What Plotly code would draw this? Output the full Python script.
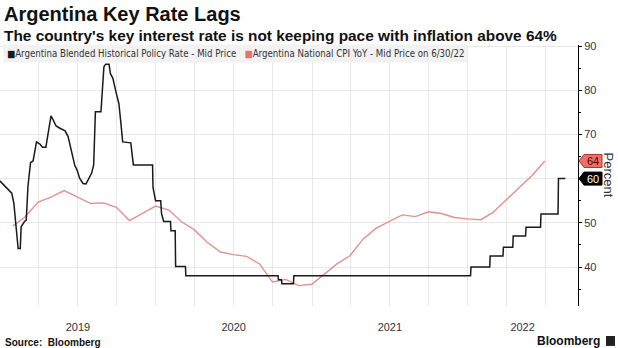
import plotly.graph_objects as go

# Argentina blended historical policy rate (%), daily path sampled at turning points
rate_dates = [
    "2018-12-31", "2019-01-16", "2019-01-28", "2019-02-02", "2019-02-08", "2019-02-12",
    "2019-02-17", "2019-02-19", "2019-02-27", "2019-03-03", "2019-03-07", "2019-03-13",
    "2019-03-19", "2019-03-27", "2019-04-04", "2019-04-10", "2019-04-18", "2019-04-30",
    "2019-05-05", "2019-05-12", "2019-05-21", "2019-06-02", "2019-06-09", "2019-06-17",
    "2019-06-25", "2019-06-30", "2019-07-06", "2019-07-14", "2019-07-21", "2019-07-26",
    "2019-08-03", "2019-08-08", "2019-08-12", "2019-08-25", "2019-09-01", "2019-09-05",
    "2019-09-13", "2019-09-16", "2019-09-22", "2019-09-30", "2019-10-06", "2019-10-10",
    "2019-10-15", "2019-11-03", "2019-11-09", "2019-12-24", "2019-12-25", "2019-12-31",
    "2020-01-12", "2020-01-14", "2020-01-19", "2020-02-04", "2020-02-05", "2020-02-15",
    "2020-02-16", "2020-03-10", "2020-03-11", "2020-10-13", "2020-10-14", "2020-10-21",
    "2020-10-22", "2020-11-18", "2020-11-19", "2022-01-07", "2022-01-08", "2022-02-21",
    "2022-02-22", "2022-03-24", "2022-03-25", "2022-04-16", "2022-04-17", "2022-05-16",
    "2022-05-17", "2022-06-20", "2022-06-21", "2022-07-31", "2022-08-01", "2022-08-17",
]
rate_values = [
    59.5, 57.8, 56.7, 54.4, 47.6, 44.2,
    44.2, 49.1, 50.3, 50.6, 58.2, 63.6,
    64.0, 68.3, 67.8, 67.1, 67.1, 74.2,
    73.3, 71.9, 71.4, 70.8, 69.5, 66.5,
    62.9, 62.0, 60.1, 58.9, 58.8, 59.7,
    61.2, 63.1, 75.1, 75.1, 85.3, 85.9,
    85.9, 83.8, 82.7, 79.3, 77.0, 73.3,
    68.3, 68.1, 63.1, 63.1, 58.0, 55.0,
    55.0, 52.1, 50.3, 50.3, 48.2, 48.2,
    40.1, 40.1, 38.0, 38.0, 37.1, 37.1,
    36.2, 36.2, 38.0, 38.0, 40.0, 40.0,
    42.5, 42.5, 44.5, 44.5, 47.0, 47.0,
    49.0, 49.0, 52.0, 52.0, 60.0, 60.0,
]

# Argentina national CPI, year over year (%), month-end
cpi_dates = [
    "2019-01-31", "2019-02-28", "2019-03-31", "2019-04-30", "2019-05-31", "2019-06-30",
    "2019-07-31", "2019-08-31", "2019-09-30", "2019-10-31", "2019-11-30", "2019-12-31",
    "2020-01-31", "2020-02-29", "2020-03-31", "2020-04-30", "2020-05-31", "2020-06-30",
    "2020-07-31", "2020-08-31", "2020-09-30", "2020-10-31", "2020-11-30", "2020-12-31",
    "2021-01-31", "2021-02-28", "2021-03-31", "2021-04-30", "2021-05-31", "2021-06-30",
    "2021-07-31", "2021-08-31", "2021-09-30", "2021-10-31", "2021-11-30", "2021-12-31",
    "2022-01-31", "2022-02-28", "2022-03-31", "2022-04-30", "2022-05-31", "2022-06-30",
]
cpi_values = [
    49.3, 51.3, 54.7, 55.8, 57.3, 55.8,
    54.4, 54.5, 53.5, 50.5, 52.1, 53.8,
    52.9, 50.3, 48.4, 45.6, 43.4, 42.8,
    42.4, 40.7, 36.6, 37.2, 35.8, 36.1,
    38.5, 40.7, 42.6, 46.3, 48.8, 50.2,
    51.8, 51.4, 52.5, 52.1, 51.2, 50.9,
    50.7, 52.3, 55.1, 58.0, 60.7, 64.0,
]

year_label_dates = ["2019-07-02", "2020-07-01", "2021-07-02", "2022-05-09"]
year_labels = ["2019", "2020", "2021", "2022"]
quarter_starts = [f"{y}-{m:02d}-01" for y in range(2019, 2023) for m in (1, 4, 7, 10)]
y_ticks = [40, 50, 60, 70, 80, 90]
# the 60 label sits under the last-value tag, so only its gridline shows
y_tick_text = ["40", "50", "", "70", "80", "90"]

RATE_COLOR = "#1a1a1a"
CPI_COLOR = "#e3918c"
CPI_TAG = "#f06e6a"
TEXT = "#333333"
GRID = "#e8e8e8"
FONT = "Liberation Sans, Arial, sans-serif"
NARROW = "Liberation Sans Narrow, DejaVu Sans Condensed, Arial Narrow, sans-serif"

fig = go.Figure()
fig.add_trace(go.Scatter(x=cpi_dates, y=cpi_values, mode="lines",
                         line=dict(color=CPI_COLOR, width=1.4), showlegend=False))
fig.add_trace(go.Scatter(x=rate_dates, y=rate_values, mode="lines",
                         line=dict(color=RATE_COLOR, width=1.5), showlegend=False))

fig.update_layout(
    width=618, height=348,
    margin=dict(l=0, r=40, t=45, b=42),
    paper_bgcolor="white", plot_bgcolor="white",
    font=dict(family=FONT, color=TEXT, size=11),
    showlegend=False,
)

fig.update_xaxes(
    range=["2018-12-31 12:00", "2022-09-15 19:00"],
    tickvals=year_label_dates, ticktext=year_labels,
    ticks="outside", ticklen=11, tickcolor="rgba(0,0,0,0)",
    showgrid=False, showline=False, zeroline=False,
    tickfont=dict(size=11, color=TEXT),
    minor=dict(tickvals=quarter_starts, showgrid=True, gridcolor=GRID, gridwidth=1, ticks=""),
)

fig.update_yaxes(
    side="right", range=[31.18, 90.23],
    tickvals=y_ticks, ticktext=y_tick_text, ticks="outside", ticklen=3, tickcolor="black",
    showline=True, linecolor="black", linewidth=1,
    showgrid=True, gridcolor=GRID, gridwidth=1, zeroline=False,
    tickfont=dict(size=11, color=TEXT),
    minor=dict(dtick=5, ticks="outside", ticklen=2, tickcolor="black", showgrid=False),
)

# Headline, subtitle, legend, footer
fig.add_annotation(text="<b>Argentina Key Rate Lags</b>", xref="paper", yref="paper",
                   x=0.0035, y=1.119, xanchor="left", yanchor="middle", showarrow=False,
                   font=dict(size=20, color="#111111", family=FONT))
fig.add_annotation(text="<b>The country's key interest rate is not keeping pace with inflation above 64%</b>",
                   xref="paper", yref="paper", x=0.0035, y=1.036, xanchor="left", yanchor="middle",
                   showarrow=False, font=dict(size=15.4, color="#111111", family=FONT))
legend_text = (
    f"<span style='color:{RATE_COLOR}'>■</span>Argentina Blended Historical Policy Rate - Mid Price"
    f"   <span style='color:{CPI_TAG}'>■</span>Argentina National CPI YoY - Mid Price on 6/30/22"
)
fig.add_annotation(text=legend_text, xref="paper", yref="paper", x=0.005, y=0.967,
                   xanchor="left", yanchor="middle", showarrow=False,
                   bgcolor="#f2f2f2", borderpad=3,
                   font=dict(size=9.6, color=TEXT, family=NARROW))
fig.add_annotation(text="<b>Source:  Bloomberg</b>", xref="paper", yref="paper",
                   x=0.005, y=-0.138, xanchor="left", yanchor="middle", showarrow=False,
                   font=dict(size=10, color="#111111", family=FONT))
fig.add_annotation(text="<b>Bloomberg</b>", xref="paper", yref="paper",
                   x=1.0415, y=-0.134, xanchor="right", yanchor="middle", showarrow=False,
                   font=dict(size=12, color="#111111", family=FONT))
fig.add_shape(type="rect", xref="paper", yref="paper", x0=1.0484, x1=1.064, y0=-0.153, y1=-0.115,
              fillcolor="#222222", line=dict(width=0))

# Axis title on the right, reading downward
fig.add_annotation(text="Percent", xref="paper", yref="paper", x=1.0536, y=0.5,
                   xanchor="center", yanchor="middle", textangle=90, showarrow=False,
                   font=dict(size=13, color=TEXT, family=FONT))

# Last-value tags on the axis
tag_path = "M 1 0 L 6 6.5 L 24 6.5 L 24 -6.5 L 6 -6.5 Z"
for value, fill, edge, txt in [
    (cpi_values[-1], CPI_TAG, "#a8322e", "#5a0000"),
    (rate_values[-1], "#000000", "#000000", "#ffffff"),
]:
    fig.add_shape(type="path", path=tag_path, xref="paper", yref="y",
                  xsizemode="pixel", xanchor=1, ysizemode="pixel", yanchor=value,
                  fillcolor=fill, line=dict(color=edge, width=1))
    fig.add_annotation(text=f"{value:.0f}", xref="paper", yref="y", x=1, y=value,
                       xshift=15, xanchor="center", yanchor="middle", showarrow=False,
                       font=dict(size=11, color=txt, family=FONT))

fig.write_html("out.html")
